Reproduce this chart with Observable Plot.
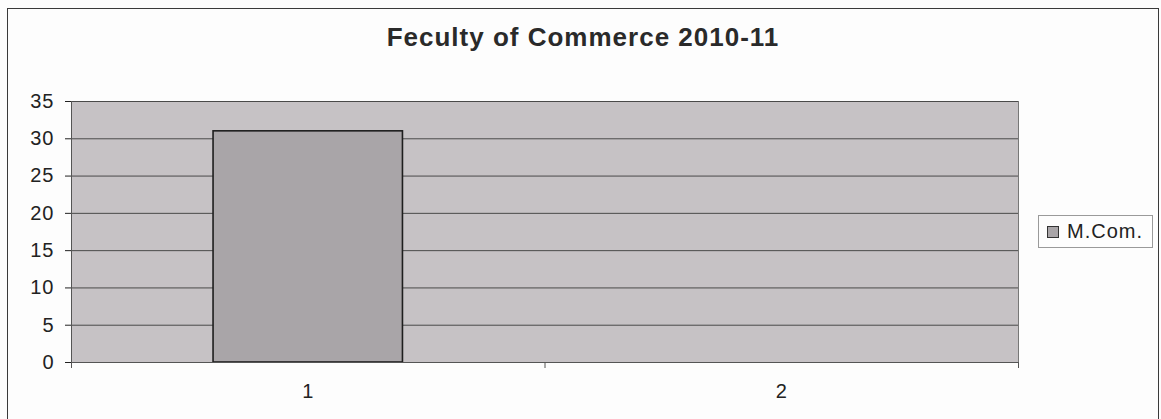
<!DOCTYPE html>
<html>
<head>
<meta charset="utf-8">
<script src="https://cdn.jsdelivr.net/npm/d3@7"></script>
<script src="https://cdn.jsdelivr.net/npm/@observablehq/plot@0.6"></script>
<style>
  html, body { margin: 0; padding: 0; background: #fdfdfd; }
  #wrap { position: relative; width: 1161px; height: 419px; overflow: hidden; font-family: "Liberation Sans", Arial, sans-serif; }
  #border { position: absolute; left: 7px; top: 8px; width: 1152px; height: 420px; border: 1.5px solid #3a3a3a; box-sizing: border-box; }
  #title { position: absolute; left: 0; width: 1166px; top: 22px; text-align: center; font-weight: bold; font-size: 26px; letter-spacing: 1px; color: #2a2a2a; }
  #legend { position: absolute; left: 1038px; top: 215px; width: 115px; height: 33px; box-sizing: border-box; border: 1px solid #9a9a9a; background: #fdfdfd; display: flex; align-items: center; font-size: 20px; letter-spacing: 1px; color: #222; }
  #legend .sw { width: 10px; height: 10px; border: 1px solid #333; background: #a9a5a8; margin-left: 8px; margin-right: 8px; }
  #chart { position: absolute; left: 0; top: 0; }
</style>
</head>
<body>
<div id="wrap">
  <div id="chart"></div>
  <div id="border"></div>
  <div id="title"></div>
  <div id="legend"><span class="sw"></span><span id="legendText"></span></div>
</div>
<script>
const title = "Feculty of Commerce 2010-11";
const seriesName = "M.Com.";
const categories = [1, 2];
const values = [31, null];
const yTicks = [0, 5, 10, 15, 20, 25, 30, 35];

document.getElementById("title").textContent = title;
document.getElementById("legendText").textContent = seriesName;

const data = categories.map((c, i) => ({cat: c, value: values[i]})).filter(d => d.value != null);
const halfBar = 0.2;

const plot = Plot.plot({
  width: 1161,
  height: 419,
  marginLeft: 71,
  marginRight: 143,
  marginTop: 101,
  marginBottom: 57,
  style: {fontFamily: "Liberation Sans, Arial, sans-serif", fontSize: "20px", letterSpacing: "1px", color: "#222", background: "transparent"},
  x: {type: "linear", domain: [0.5, 2.5], ticks: categories, tickFormat: d => String(d), tickSize: 0, tickPadding: 21, label: null},
  y: {domain: [0, 35], ticks: yTicks, tickSize: 6, tickPadding: 11, label: null},
  marks: [
    Plot.frame({fill: "#c6c2c5", stroke: null}),
    Plot.ruleY(yTicks, {stroke: "#4a4a4a", strokeWidth: 1}),
    Plot.ruleX([2.5], {stroke: "#777", strokeWidth: 1}),
    Plot.rectY(data, {x1: d => d.cat - halfBar, x2: d => d.cat + halfBar, y: "value", fill: "#a9a5a8", stroke: "#1e1e1e", strokeWidth: 1.6}),
    Plot.ruleX([0.5], {stroke: "#555", strokeWidth: 1}),
    Plot.ruleY([0], {stroke: "#555", strokeWidth: 1.2}),
    Plot.ruleX([0.5, 1.5, 2.5], {y1: 0, y2: 0, insetBottom: -6, stroke: "#555", strokeWidth: 1})
  ]
});
document.getElementById("chart").appendChild(plot);
</script>
</body>
</html>
